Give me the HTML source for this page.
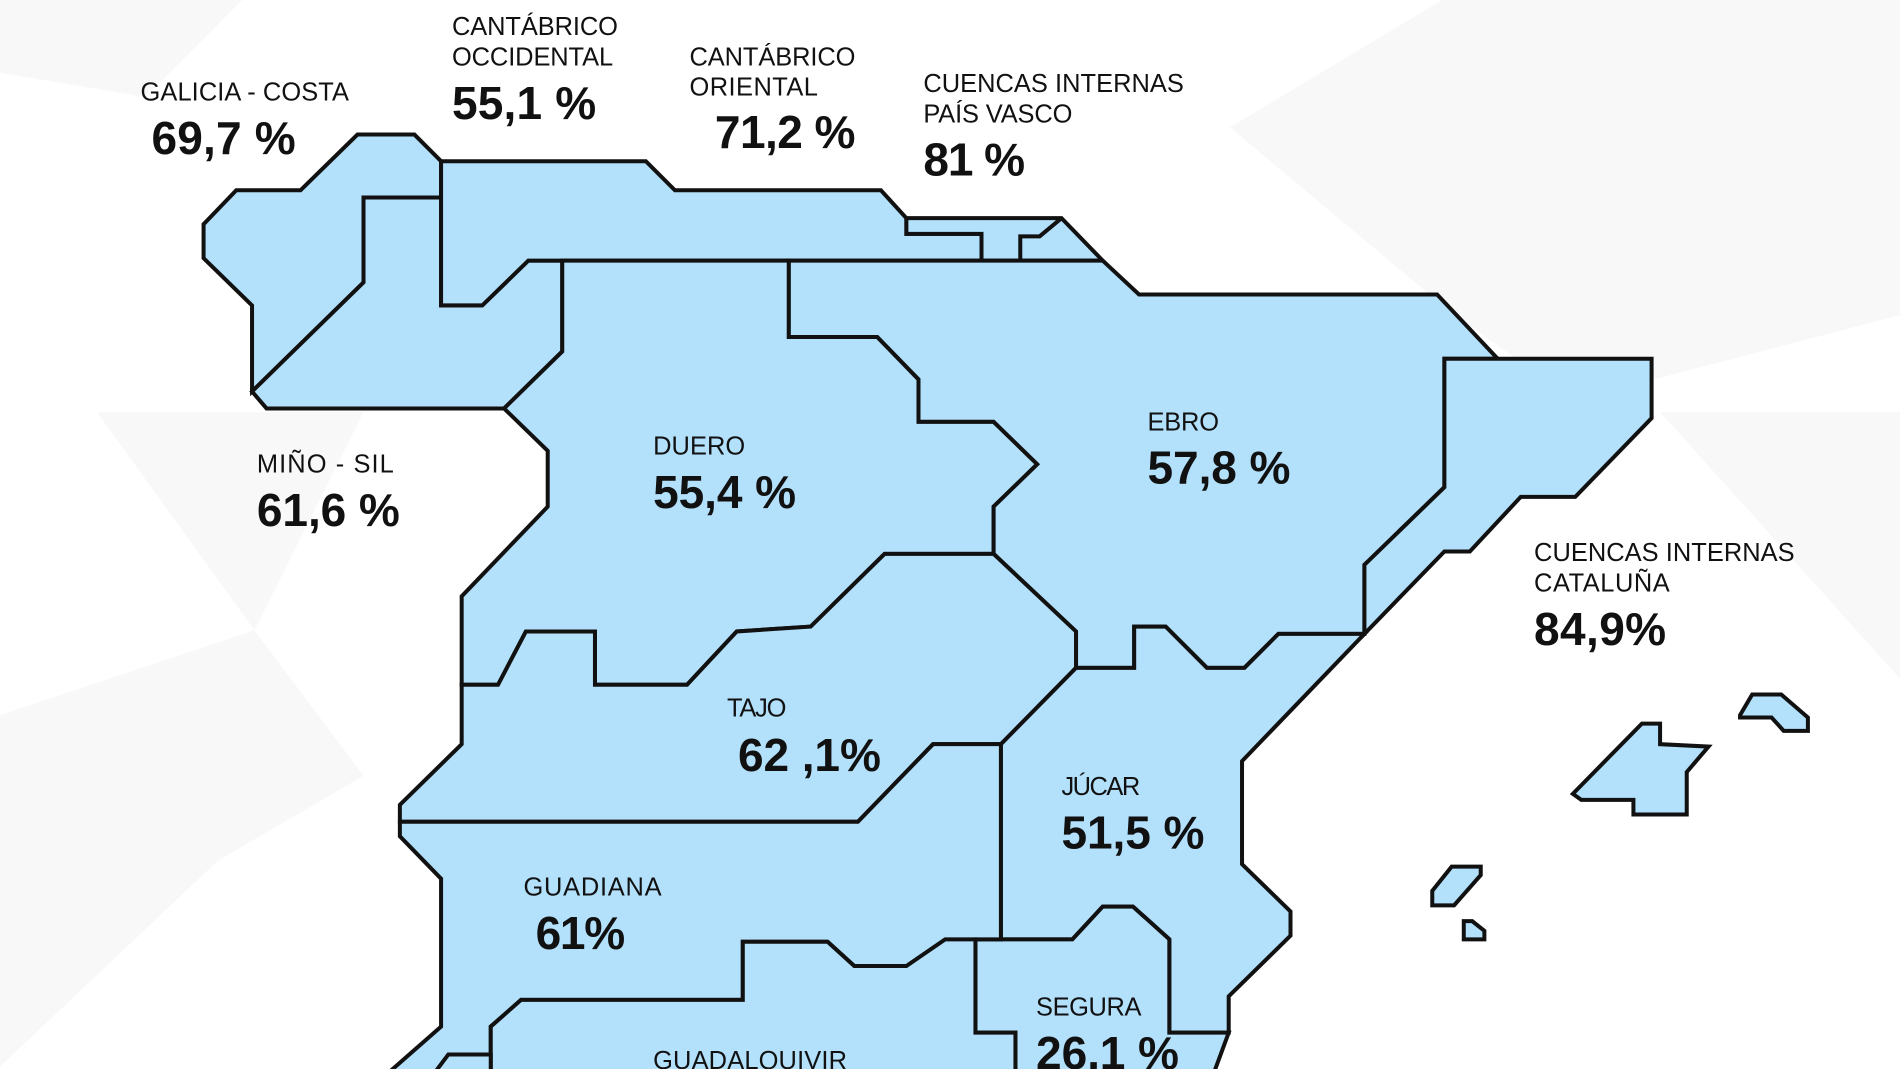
<!DOCTYPE html>
<html><head><meta charset="utf-8"><style>
html,body{margin:0;padding:0;background:#fff;}
svg{display:block;}
.l{font-family:"Liberation Sans Narrow","Liberation Sans",sans-serif;font-size:21px;fill:#111;}
.v{font-family:"Liberation Sans Narrow","Liberation Sans",sans-serif;font-size:38px;font-weight:bold;fill:#111;}
</style></head><body>
<svg width="1900" height="1069" viewBox="0 0 1568 882" preserveAspectRatio="none" xmlns="http://www.w3.org/2000/svg">
<rect width="1568" height="882" fill="#fff"/>
<g fill="#f8f8f8">
<polygon points="0,0 200,0 120,80 0,60"/>
<polygon points="1015,105 1190,0 1568,0 1568,260 1300,330 1200,260"/>
<polygon points="0,590 210,520 300,640 180,710 0,880"/>
<polygon points="80,340 300,340 210,520"/>
<polygon points="1370,340 1568,340 1568,560"/>
</g>
<g fill="#b3e0fb" stroke="#111" stroke-width="3.3" stroke-linejoin="miter">
<polygon points="168,185 195,157 248,157 295,111 342,111 364,133 364,163 300,163 300,233 208,323 208,252 168,213"/>
<polygon points="208,323 300,233 300,163 364,163 364,252 398,252 436,215 464,215 464,290 416,337 220,337"/>
<polygon points="364,133 533,133 557,157 727,157 748,180 748,193 810,193 810,215 436,215 398,252 364,252"/>
<polygon points="748,180 876,180 910,215 842,215 842,195 858,195 876,180 858,195 842,195 842,215 810,215 810,193 748,193"/>
<polygon points="464,215 651,215 651,278 724,278 758,313 758,348 820,348 856,383 820,418 820,457 730,457 669,517 608,521 567,565 491,565 491,521 434,521 411,565 381,565 381,492 452,418 452,372 416,337 464,290"/>
<polygon points="651,215 910,215 940,243 1186,243 1236,296 1192,296 1192,402 1126,466 1126,523 1055,523 1027,551 996,551 962,517 936,517 936,551 888,551 888,521 820,457 820,418 856,383 820,348 758,348 758,313 724,278 651,278"/>
<polygon points="1192,296 1363,296 1363,345 1300,410 1255,410 1213,455 1192,455 1126,523 1126,466 1192,402"/>
<polygon points="381,565 411,565 434,521 491,521 491,565 567,565 608,521 669,517 730,457 820,457 888,521 888,551 826,614 770,614 708,678 330,678 330,664 381,614"/>
<polygon points="888,551 936,551 936,517 962,517 996,551 1027,551 1055,523 1126,523 1025,628 1025,713 1065,752 1065,772 1014,822 1014,852 965,852 965,775 935,748 910,748 885,775 826,775 826,614"/>
<polygon points="805,775 885,775 910,748 935,748 965,775 965,852 1014,852 1000,890 838,890 838,852 805,852"/>
<polygon points="330,678 708,678 770,614 826,614 826,775 805,775 780,797 705,797 683,777 613,777 613,825 430,825 405,847 405,890 315,890 364,847 364,725 330,690"/>
<polygon points="405,890 405,847 430,825 613,825 613,777 683,777 705,797 748,797 780,775 805,775 805,852 838,852 838,890"/>
<polygon points="355,890 370,870 405,870 405,890"/>
<polygon points="1298,655 1355,597 1370,597 1370,614 1410,616 1392,637 1392,672 1348,672 1348,660 1305,660"/>
<polygon points="1436,590 1446,573 1470,573 1492,592 1492,603 1472,603 1462,592 1436,592"/>
<polygon points="1182,735 1198,715 1222,715 1222,722 1200,747 1182,747"/>
<polygon points="1208,760 1215,760 1225,768 1225,775 1208,775"/>
</g>
<text class="l" x="116" y="83" textLength="172">GALICIA - COSTA</text><text class="v" x="125" y="127" textLength="119">69,7 %</text>
<text class="l" x="373" y="29" textLength="137">CANTÁBRICO</text><text class="l" x="373" y="54" textLength="133">OCCIDENTAL</text><text class="v" x="373" y="98" textLength="119">55,1 %</text>
<text class="l" x="569" y="54" textLength="137">CANTÁBRICO</text><text class="l" x="569" y="79" textLength="106">ORIENTAL</text><text class="v" x="590" y="122" textLength="116">71,2 %</text>
<text class="l" x="762" y="76" textLength="215">CUENCAS INTERNAS</text><text class="l" x="762" y="101" textLength="123">PAÍS VASCO</text><text class="v" x="762" y="145" textLength="84">81 %</text>
<text class="l" x="212" y="390" textLength="113">MIÑO - SIL</text><text class="v" x="212" y="434" textLength="118">61,6 %</text>
<text class="l" x="539" y="375" textLength="76">DUERO</text><text class="v" x="539" y="419" textLength="118">55,4 %</text>
<text class="l" x="947" y="355" textLength="59">EBRO</text><text class="v" x="947" y="399" textLength="118">57,8 %</text>
<text class="l" x="1266" y="463" textLength="215">CUENCAS INTERNAS</text><text class="l" x="1266" y="488" textLength="112">CATALUÑA</text><text class="v" x="1266" y="532" textLength="109">84,9%</text>
<text class="l" x="600" y="591" textLength="49">TAJO</text><text class="v" x="609" y="636" textLength="118">62 ,1%</text>
<text class="l" x="876" y="656" textLength="65">JÚCAR</text><text class="v" x="876" y="700" textLength="118">51,5 %</text>
<text class="l" x="432" y="739" textLength="114">GUADIANA</text><text class="v" x="442" y="783" textLength="74">61%</text>
<text class="l" x="855" y="838" textLength="87">SEGURA</text><text class="v" x="855" y="882" textLength="118">26,1 %</text>
<text class="l" x="539" y="882" textLength="160">GUADALQUIVIR</text>
</svg>
</body></html>
